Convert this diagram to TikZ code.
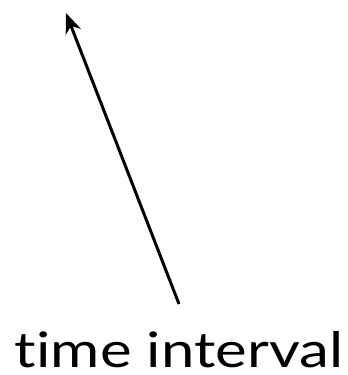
\documentclass[tikz,border=0pt]{standalone}
\usepackage{fontspec}
\usepackage{graphicx}
\setmainfont[Ligatures=NoCommon]{Lato}
\usetikzlibrary{arrows.meta}
\begin{document}
\begin{tikzpicture}[x=1pt,y=1pt,
  arr/.style={line width=3pt,-{Stealth[length=20pt,width=16pt,inset=6pt]}},
  lbl/.style={font=\fontsize{49}{52}\selectfont,inner sep=0pt,anchor=base}]
\useasboundingbox (0,0) rectangle (348,375);
\coordinate (tail) at (179,71);
\coordinate (tip) at (66,362);
\draw[arr] (tail) -- (tip);
\node[lbl] (t) at (179,7) {\resizebox{328pt}{\height}{time interval}};
\end{tikzpicture}
\end{document}
